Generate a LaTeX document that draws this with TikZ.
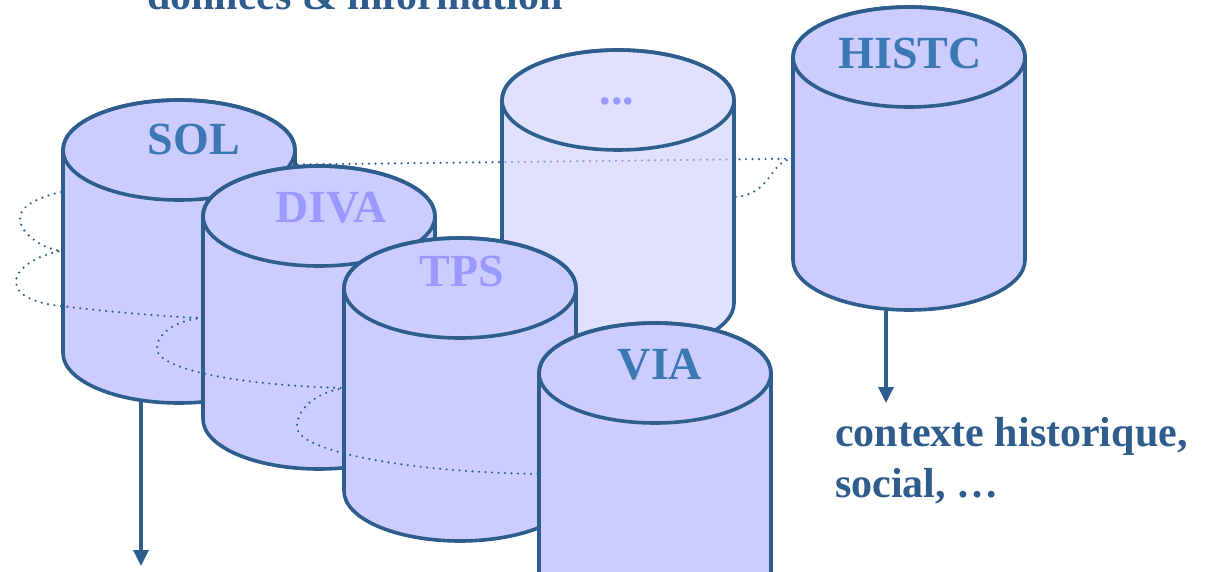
\documentclass[tikz,border=0pt]{standalone}
\usepackage{fontspec}
\setmainfont{Liberation Serif}
\usetikzlibrary{arrows.meta}
\definecolor{edgeblue}{RGB}{46,94,142}
\definecolor{cylfill}{RGB}{204,204,255}
\definecolor{labdark}{RGB}{59,120,180}
\definecolor{lablight}{RGB}{153,153,255}
\definecolor{textblue}{RGB}{46,92,140}
\tikzset{
  cylbody/.style={fill=cylfill, draw=edgeblue, line width=3.6pt, line join=round},
  cyledge/.style={draw=edgeblue, line width=3.6pt},
  thread/.style={draw=edgeblue, line width=2.4pt, line cap=round, dash pattern=on 0pt off 6.5pt},
  flowarrow/.style={draw=edgeblue, line width=3.4pt, -{Triangle[length=16pt,width=15pt]}},
  cyllabel/.style={font=\bfseries\fontsize{46}{50}\selectfont, anchor=base, inner sep=0pt},
  bodytext/.style={font=\bfseries\fontsize{42}{48}\selectfont, text=textblue, anchor=base west, inner sep=0pt}
}
\newcommand\dbcylinder[3]{%
  \path[cylbody,#3] ({#1-116},{571-#2}) -- ++(0,-203)
    arc[start angle=180,end angle=360,x radius=116pt,y radius=50pt]
    -- ++(0,203)
    arc[start angle=0,end angle=180,x radius=116pt,y radius=50pt] -- cycle;
  \draw[cyledge] (#1,{571-#2}) ellipse[x radius=116pt,y radius=50pt];
}
\begin{document}
\begin{tikzpicture}[x=1pt,y=1pt]
\useasboundingbox (0,0) rectangle (1210,571);
\clip (0,0) rectangle (1210,571);
% title (cut at the top edge, as in the reference)
\node[bodytext] (title) at (147,{571-10}) {données \& information};
% thread behind everything
\draw[thread] (850,{571-158}) -- (341,{571-164}) -- (220,{571-165});
\draw[thread] (793,{571-159}) .. controls (770,{571-159}) and (772,{571-196}) .. (733,{571-197});
% "..." cylinder (semi-transparent)
\dbcylinder{618}{100}{fill opacity=0.6}
\node[cyllabel, text=lablight] (dots) at (617,{571-105}) {...};
% SOL
\dbcylinder{179}{150}{}
\node[cyllabel, text=labdark] (sol) at (194,{571-155}) {SOL};
\draw[thread] (61,{571-192}) .. controls (35,{571-198}) and (18,{571-208}) .. (20,{571-220})
  .. controls (22,{571-236}) and (45,{571-249}) .. (61,{571-251})
  .. controls (38,{571-255}) and (15,{571-268}) .. (16,{571-283})
  .. controls (17,{571-297}) and (40,{571-304}) .. (61,{571-306})
  .. controls (110,{571-312}) and (170,{571-317}) .. (203,{571-318});
% DIVA
\dbcylinder{319}{216}{}
\node[cyllabel, text=lablight] (diva) at (331,{571-223}) {DIVA};
\draw[thread] (203,{571-318}) .. controls (175,{571-320}) and (155,{571-335}) .. (157,{571-350})
  .. controls (160,{571-368}) and (230,{571-385}) .. (345,{571-388});
% TPS
\dbcylinder{460}{288}{}
\node[cyllabel, text=lablight] (tps) at (462,{571-287}) {TPS};
\draw[thread] (345,{571-388}) .. controls (315,{571-392}) and (296,{571-410}) .. (297,{571-428})
  .. controls (299,{571-450}) and (400,{571-472}) .. (540,{571-474});
% VIA
\dbcylinder{655}{373}{}
\node[cyllabel, text=labdark] (via) at (660,{571-379}) {VIA};
% HISTC
\dbcylinder{909}{57}{}
\node[cyllabel, text=labdark] (histc) at (910,{571-69}) {HISTC};
% arrows
\coordinate (solfoot) at (141,{571-400});
\coordinate (solend) at (141,{571-566});
\coordinate (histcfoot) at (886,{571-311});
\coordinate (histcend) at (886,{571-403});
\draw[flowarrow] (solfoot) -- (solend);
\draw[flowarrow] (histcfoot) -- (histcend);
% context text
\node[bodytext] (ctx1) at (835,{571-446}) {contexte historique,};
\node[bodytext] (ctx2) at (835,{571-497}) {social, …};
\end{tikzpicture}
\end{document}
